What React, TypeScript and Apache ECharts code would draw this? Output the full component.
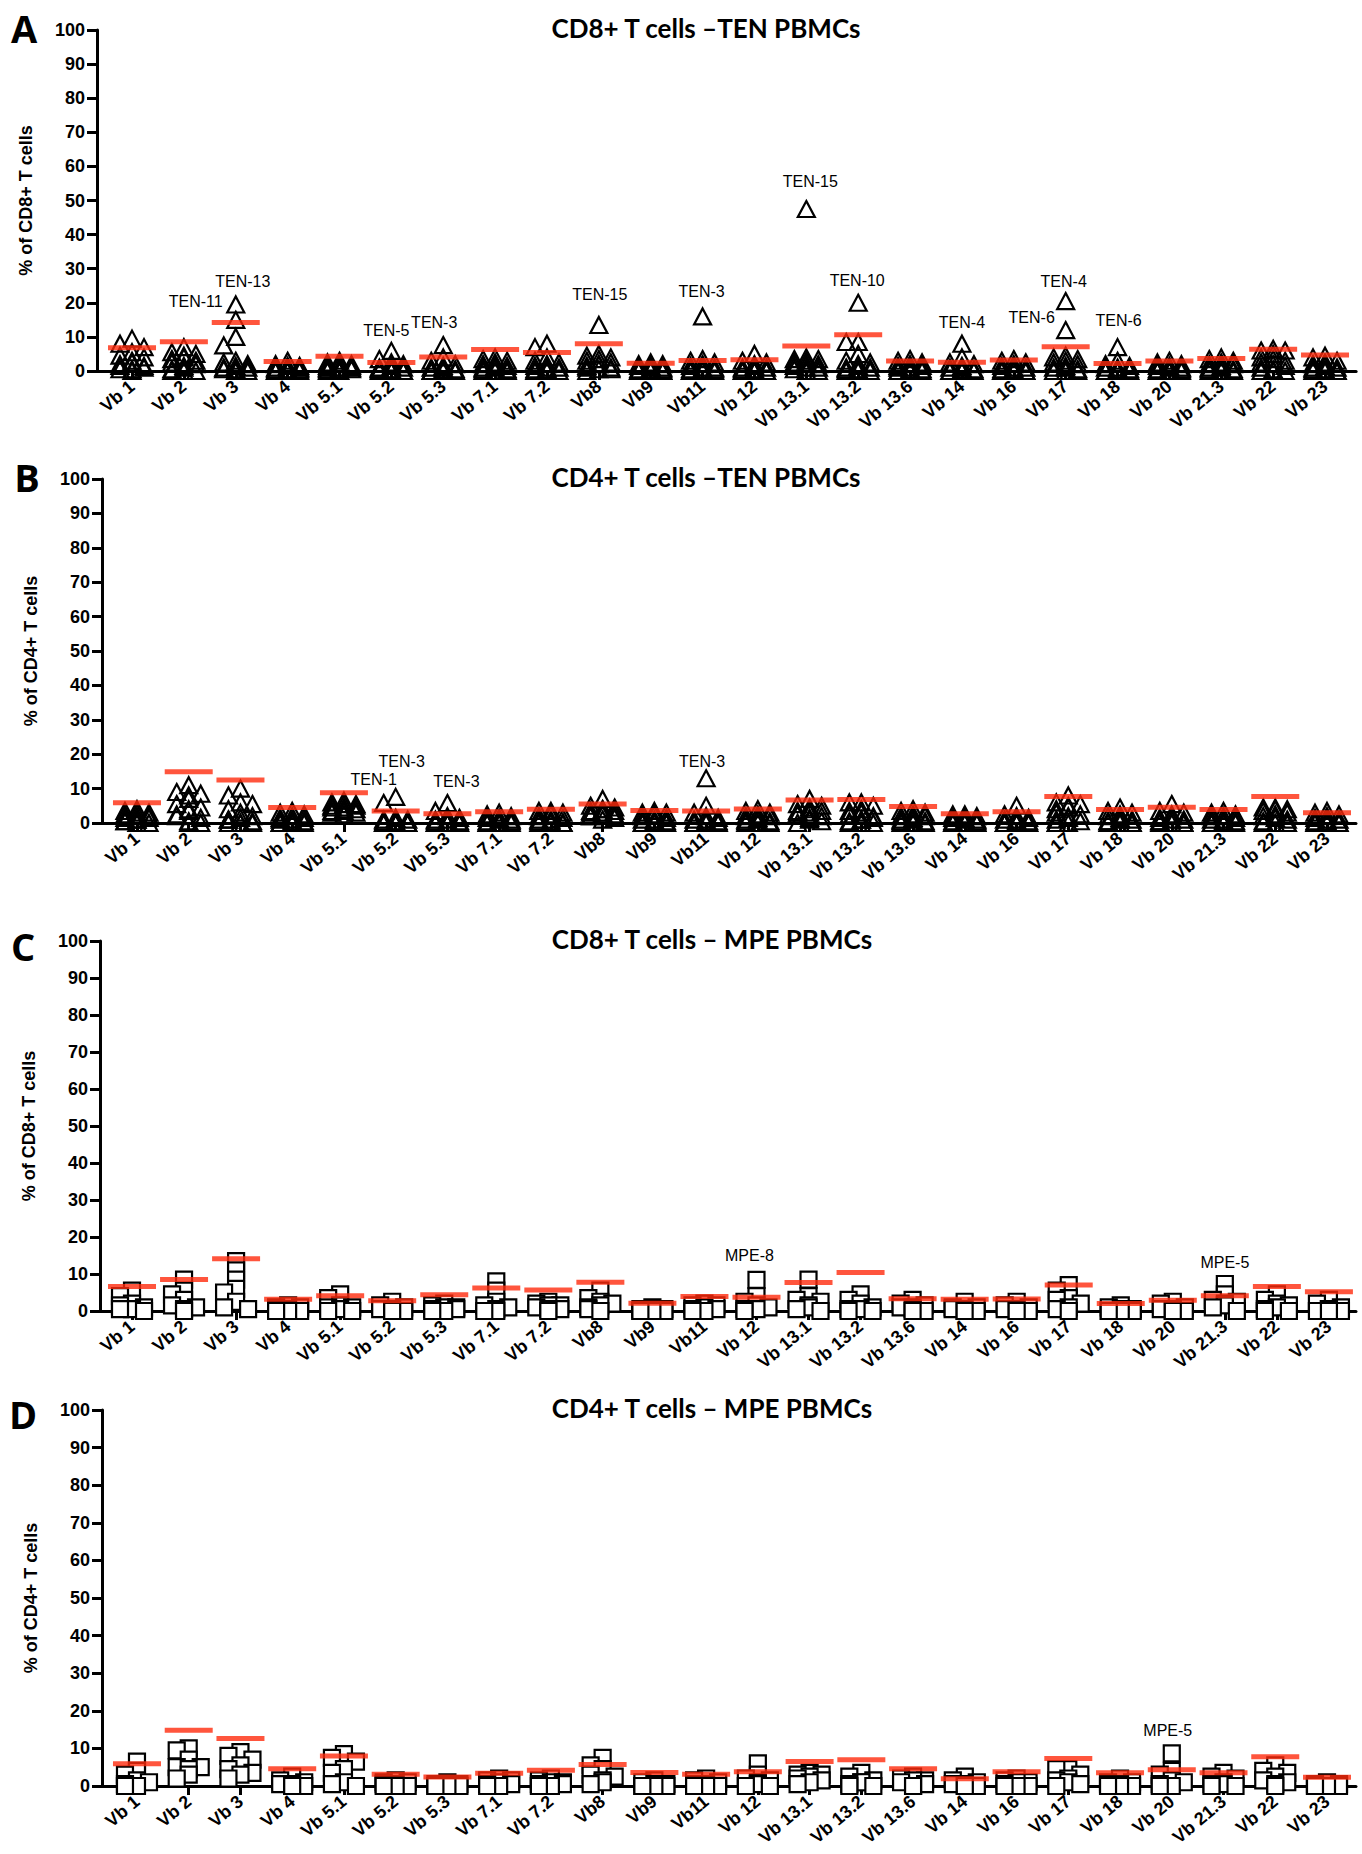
import React, { useEffect, useRef } from 'react';
import * as echarts from 'echarts';

// Vβ families on the x axis (same for all four panels)
const categories = [
  'Vb 1', 'Vb 2', 'Vb 3', 'Vb 4', 'Vb 5.1', 'Vb 5.2', 'Vb 5.3', 'Vb 7.1', 'Vb 7.2', 'Vb8', 'Vb9', 'Vb11',
  'Vb 12', 'Vb 13.1', 'Vb 13.2', 'Vb 13.6', 'Vb 14', 'Vb 16', 'Vb 17', 'Vb 18', 'Vb 20', 'Vb 21.3', 'Vb 22', 'Vb 23',
];

const yTicks = [0, 10, 20, 30, 40, 50, 60, 70, 80, 90, 100];

// A: CD8+ T cells, TEN PBMCs (one value per patient)
const cd8TenValues = [
  [9.5, 8, 7, 5.5, 4.5, 4, 3, 2.5, 2, 1.5, 1.5, 1, 0.5, 0.5, 0],
  [7, 5.5, 5, 4.5, 4, 3.5, 3, 2.5, 2, 1.5, 1, 0.5, 0, 0, 0],
  [19.5, 15, 10, 7.5, 3, 2.5, 2, 1.5, 1, 1, 0.5, 0.5, 0, 0, 0],
  [3, 2, 1.5, 1.5, 1, 1, 0.5, 0.5, 0.5, 0, 0, 0, 0, 0, 0],
  [3, 2.5, 2, 2, 1.5, 1.5, 1, 1, 1, 0.5, 0.5, 0.5, 0, 0, 0],
  [5.9, 3.5, 2.5, 2, 1.5, 1, 1, 0.5, 0.5, 0.5, 0, 0, 0, 0, 0],
  [7.6, 4, 3, 2, 1.5, 1, 1, 0.5, 0.5, 0, 0, 0, 0, 0, 0],
  [4, 3.5, 3, 2.5, 2, 1.5, 1.5, 1, 1, 0.5, 0.5, 0, 0, 0, 0],
  [8, 7, 4, 3, 2.5, 2, 1.5, 1, 1, 0.5, 0.5, 0, 0, 0, 0],
  [13.5, 5, 4.5, 4, 3.5, 3, 2.5, 2, 2, 1.5, 1, 1, 0.5, 0.5, 0],
  [2.5, 2, 2, 1.5, 1.5, 1, 1, 0.5, 0.5, 0.5, 0, 0, 0, 0, 0],
  [16, 3.5, 3, 2.5, 2, 1.5, 1, 1, 0.5, 0.5, 0.5, 0, 0, 0, 0],
  [5, 3, 2.5, 2, 1.5, 1, 1, 0.5, 0.5, 0, 0, 0, 0, 0, 0],
  [47.5, 4, 3.5, 3.5, 3, 2.5, 2, 2, 1.5, 1, 1, 0.5, 0, 0, 0],
  [20, 8.5, 8.5, 5, 3, 2.5, 2, 1.5, 1, 1, 0.5, 0.5, 0, 0, 0],
  [3.5, 3, 2.5, 2, 1.5, 1.5, 1, 1, 0.5, 0.5, 0, 0, 0, 0, 0],
  [8, 4, 2.5, 2, 1.5, 1, 1, 0.5, 0.5, 0, 0, 0, 0, 0, 0],
  [3.5, 3, 2.5, 2, 1.5, 1, 1, 0.5, 0.5, 0, 0, 0, 0, 0, 0],
  [20.5, 12, 4.5, 4, 3.5, 3, 2.5, 2, 1.5, 1, 1, 0.5, 0, 0, 0],
  [7, 3, 2, 1.5, 1, 1, 0.5, 0.5, 0, 0, 0, 0, 0, 0, 0],
  [3, 2.5, 2, 1.5, 1.5, 1, 1, 0.5, 0.5, 0, 0, 0, 0, 0, 0],
  [4, 3.5, 3, 2.5, 2, 2, 1.5, 1, 1, 0.5, 0.5, 0, 0, 0, 0],
  [6.5, 6, 6, 5, 4, 3.5, 3, 2.5, 2, 1.5, 1, 0.5, 0, 0, 0],
  [4.5, 4, 3, 2.5, 2, 1.5, 1, 1, 0.5, 0.5, 0, 0, 0, 0, 0],
];
const cd8TenRef = [6.8, 8.6, 14.2, 2.8, 4.3, 2.5, 4.1, 6.3, 5.4, 8.0, 2.3, 3.1, 3.3, 7.3, 10.6, 2.9, 2.6, 3.2, 7.1, 2.2, 2.9, 3.7, 6.4, 4.7];
const cd8TenNotes = [
  { cat: 2, value: 15, text: 'TEN-11' },
  { cat: 2, value: 19.5, text: 'TEN-13' },
  { cat: 5, value: 5.9, text: 'TEN-5' },
  { cat: 6, value: 7.6, text: 'TEN-3' },
  { cat: 9, value: 13.5, text: 'TEN-15' },
  { cat: 11, value: 16, text: 'TEN-3' },
  { cat: 13, value: 47.5, text: 'TEN-15' },
  { cat: 14, value: 20, text: 'TEN-10' },
  { cat: 16, value: 8, text: 'TEN-4' },
  { cat: 18, value: 12, text: 'TEN-6' },
  { cat: 18, value: 20.5, text: 'TEN-4' },
  { cat: 19, value: 7, text: 'TEN-6' },
];
const cd8TenNoteOffsets = [[-40, -18], [7, -23], [-5, -20], [-9, -23], [1, -30], [-1, -25], [4, -28], [-1, -22], [0, -21], [-34, -13], [-2, -20], [1, -27]];

// B: CD4+ T cells, TEN PBMCs
const cd4TenValues = [
  [4, 3.5, 3, 3, 2.5, 2, 2, 1.5, 1.5, 1, 1, 0.5, 0.5, 0, 0],
  [11, 9, 8.5, 8, 7, 5.5, 4.5, 4, 3.5, 2.5, 2, 1.5, 0.5, 0, 0],
  [10, 8, 6, 5.5, 4, 3, 2, 1.5, 1, 1, 0.5, 0, 0, 0, 0],
  [3.5, 3, 2.5, 2, 1.5, 1.5, 1, 1, 0.5, 0.5, 0, 0, 0, 0, 0],
  [6.5, 6, 5.5, 5.5, 5, 5, 4.5, 4.5, 4, 4, 3.5, 3.5, 3, 3, 2.5],
  [7.6, 5.8, 1.5, 1, 1, 0.5, 0.5, 0, 0, 0, 0, 0, 0, 0, 0],
  [5.8, 3.5, 2, 1.5, 1, 1, 0.5, 0.5, 0, 0, 0, 0, 0, 0, 0],
  [3, 2.5, 2, 1.5, 1.5, 1, 1, 0.5, 0.5, 0, 0, 0, 0, 0, 0],
  [3.5, 3.5, 3, 2.5, 2, 1.5, 1, 1, 0.5, 0.5, 0, 0, 0, 0, 0],
  [7, 5, 4.5, 4, 4, 3.5, 3.5, 3, 3, 2.5, 2.5, 2, 2, 1.5, 1],
  [3.5, 3, 3, 2.5, 2, 1.5, 1, 1, 0.5, 0.5, 0, 0, 0, 0, 0],
  [13, 5, 3, 2, 1.5, 1, 1, 0.5, 0.5, 0, 0, 0, 0, 0, 0],
  [4, 3.5, 3, 2.5, 2, 2, 1.5, 1, 1, 0.5, 0.5, 0, 0, 0, 0],
  [7, 5.5, 5, 4.5, 4, 3.5, 3.5, 3, 3, 2.5, 2, 1.5, 1, 0.5, 0],
  [6, 6, 5, 4, 3.5, 3, 2.5, 2, 1.5, 1, 1, 0.5, 0, 0, 0],
  [4, 3.5, 3, 2.5, 2, 2, 1.5, 1, 1, 0.5, 0.5, 0, 0, 0, 0],
  [2.5, 2.5, 2, 1.5, 1.5, 1, 1, 0.5, 0.5, 0, 0, 0, 0, 0, 0],
  [5, 2.5, 2, 1.5, 1, 1, 0.5, 0.5, 0, 0, 0, 0, 0, 0, 0],
  [8, 6, 5.5, 5, 4.5, 4, 3, 2.5, 2, 1.5, 1, 0.5, 0, 0, 0],
  [4.5, 3.5, 3, 2.5, 2, 1.5, 1, 1, 0.5, 0.5, 0, 0, 0, 0, 0],
  [5.5, 3.5, 3, 2.5, 2, 1.5, 1, 1, 0.5, 0.5, 0, 0, 0, 0, 0],
  [3.5, 3, 2.5, 2, 2, 1.5, 1, 1, 0.5, 0.5, 0, 0, 0, 0, 0],
  [4.5, 4.5, 4, 4, 3.5, 3, 2.5, 2, 1.5, 1, 0.5, 0, 0, 0, 0],
  [3.5, 3, 2.5, 2, 1.5, 1, 1, 0.5, 0.5, 0, 0, 0, 0, 0, 0],
];
const cd4TenRef = [5.9, 14.9, 12.5, 4.5, 8.8, 3.5, 2.7, 3.3, 4.0, 5.5, 3.6, 3.5, 4.1, 6.7, 6.8, 4.8, 2.7, 3.3, 7.7, 3.9, 4.6, 3.9, 7.7, 3.0];
const cd4TenNotes = [
  { cat: 5, value: 5.8, text: 'TEN-1' },
  { cat: 5, value: 7.6, text: 'TEN-3' },
  { cat: 6, value: 5.8, text: 'TEN-3' },
  { cat: 11, value: 13, text: 'TEN-3' },
];
const cd4TenNoteOffsets = [[-10, -24], [6, -35], [9, -22], [-4, -17]];

// C: CD8+ T cells, MPE PBMCs
const cd8MpeValues = [
  [5.5, 4, 2, 1.5, 1, 0.5, 0.5, 0],
  [8.5, 5.5, 4.5, 3, 1.5, 1, 0.5, 0],
  [13.5, 11, 8.5, 6, 5, 2.5, 1, 0.5],
  [1.5, 1, 1, 0.5, 0.5, 0, 0, 0],
  [4.5, 3.5, 1.5, 1, 1, 0.5, 0, 0],
  [2.5, 1.5, 1, 0.5, 0.5, 0, 0, 0],
  [2, 1.5, 1, 1, 0.5, 0.5, 0, 0],
  [8, 5.5, 2.5, 1.5, 1, 0.5, 0, 0],
  [2.5, 2, 1.5, 1.5, 1, 0.5, 0.5, 0],
  [5.5, 3.5, 2.5, 2, 1.5, 1, 0.5, 0],
  [1, 0.5, 0.5, 0.5, 0, 0, 0, 0],
  [2, 1.5, 1.5, 1, 0.5, 0.5, 0, 0],
  [8.4, 4, 2.5, 1.5, 1, 0.5, 0.5, 0],
  [8.5, 4, 3, 2.5, 1.5, 1, 0.5, 0],
  [4.5, 3, 2, 1, 0.5, 0.5, 0, 0],
  [3, 2, 1.5, 1, 1, 0.5, 0, 0],
  [2.5, 1, 1, 0.5, 0.5, 0, 0, 0],
  [2.5, 1.5, 1, 0.5, 0.5, 0, 0, 0],
  [7, 5.5, 3.5, 3, 2, 1, 0.5, 0],
  [1.5, 1, 0.5, 0.5, 0, 0, 0, 0],
  [2.5, 2, 1, 0.5, 0.5, 0, 0, 0],
  [7.3, 4.5, 3, 2.5, 2, 1.5, 1, 0],
  [4.5, 3, 2, 1.5, 1, 0.5, 0, 0],
  [3, 2, 1, 0.5, 0.5, 0, 0, 0],
];
const cd8MpeRef = [6.6, 8.5, 14.1, 3.2, 4.1, 2.8, 4.4, 6.2, 5.7, 7.8, 2.1, 3.9, 3.7, 7.7, 10.4, 3.3, 3.2, 3.25, 7.0, 2.0, 2.9, 4.1, 6.6, 5.2];
const cd8MpeNotes = [
  { cat: 12, value: 8.4, text: 'MPE-8' },
  { cat: 21, value: 7.3, text: 'MPE-5' },
];
const cd8MpeNoteOffsets = [[-7, -24], [0, -21]];

// D: CD4+ T cells, MPE PBMCs
const cd4MpeValues = [
  [6.5, 4, 3, 1.5, 1, 0.5, 0, 0],
  [10, 9.5, 7, 5, 5, 4.5, 3, 2],
  [9, 8, 7, 5.5, 4.5, 3.5, 3, 2],
  [2.5, 1.5, 1, 0.5, 0.5, 0, 0, 0],
  [8.5, 7.5, 6.5, 4.5, 3.5, 1, 0.5, 0],
  [1.5, 1, 1, 0.5, 0.5, 0, 0, 0],
  [1, 0.5, 0.5, 0.5, 0, 0, 0, 0],
  [2, 1.5, 1.5, 1, 0.5, 0.5, 0, 0],
  [2, 1.5, 1, 1, 0.5, 0.5, 0, 0],
  [7.5, 5.5, 4.5, 3, 2.5, 1.5, 1, 0.5],
  [1.5, 1, 0.5, 0.5, 0, 0, 0, 0],
  [2, 1.5, 1, 0.5, 0.5, 0, 0, 0],
  [6, 3, 2, 1.5, 1, 0.5, 0, 0],
  [3.5, 3, 3, 2.5, 2, 1.5, 1, 0.5],
  [3.5, 2.5, 1.5, 1, 1, 0.5, 0, 0],
  [2.5, 2, 1.5, 1.5, 1, 0.5, 0, 0],
  [2.5, 1.5, 1, 0.5, 0.5, 0, 0, 0],
  [2, 1.5, 1, 1, 0.5, 0, 0, 0],
  [4.5, 4.5, 3, 2, 1.5, 1, 0.5, 0],
  [2, 1, 1, 0.5, 0.5, 0, 0, 0],
  [8.7, 4, 3, 1.5, 1, 0.5, 0, 0],
  [3.5, 2.5, 2, 1, 0.5, 0.5, 0, 0],
  [5.5, 4, 3.5, 2.5, 1.5, 1, 0.5, 0],
  [1, 0.5, 0.5, 0, 0, 0, 0, 0],
];
const cd4MpeRef = [5.9, 14.8, 12.6, 4.6, 8.0, 3.1, 2.4, 3.4, 4.2, 5.7, 3.6, 3.1, 3.8, 6.5, 7.0, 4.6, 1.9, 3.8, 7.3, 3.5, 4.3, 3.5, 7.8, 2.3];
const cd4MpeNotes = [{ cat: 20, value: 8.7, text: 'MPE-5' }];
const cd4MpeNoteOffsets = [[-4, -23]];

const RED = '#ff2a0d';
const TICK_FONT = 'Liberation Sans';

const panels = [
  {
    letter: 'A', title: 'CD8+ T cells \u2013TEN PBMCs', yName: '% of CD8+ T cells',
    values: cd8TenValues, ref: cd8TenRef, notes: cd8TenNotes, noteOffsets: cd8TenNoteOffsets, symbol: 'triangle',
    top: 30, height: 341, left: 97, step: 51.87, xMin: -0.675, xMax: 23.6, titleX: 706, letterX: 24, letterY: 28,
  },
  {
    letter: 'B', title: 'CD4+ T cells \u2013TEN PBMCs', yName: '% of CD4+ T cells',
    values: cd4TenValues, ref: cd4TenRef, notes: cd4TenNotes, noteOffsets: cd4TenNoteOffsets, symbol: 'triangle',
    top: 479, height: 344, left: 102, step: 51.74, xMin: -0.676, xMax: 23.56, titleX: 706, letterX: 27, letterY: 477,
  },
  {
    letter: 'C', title: 'CD8+ T cells \u2013 MPE PBMCs', yName: '% of CD8+ T cells',
    values: cd8MpeValues, ref: cd8MpeRef, notes: cd8MpeNotes, noteOffsets: cd8MpeNoteOffsets, symbol: 'rect',
    top: 941, height: 370, left: 100, step: 52.04, xMin: -0.615, xMax: 23.52, titleX: 712, letterX: 23, letterY: 946,
  },
  {
    letter: 'D', title: 'CD4+ T cells \u2013 MPE PBMCs', yName: '% of CD4+ T cells',
    values: cd4MpeValues, ref: cd4MpeRef, notes: cd4MpeNotes, noteOffsets: cd4MpeNoteOffsets, symbol: 'rect',
    top: 1410, height: 376, left: 102, step: 51.74, xMin: -0.676, xMax: 23.56, titleX: 712, letterX: 23, letterY: 1414,
  },
];

// spread points of one column sideways so that they do not sit on top of each other
function swarmOffsets(values: number[], pxPerUnit: number, step: number): number[] {
  const candidates = [0, -6, 6, -12, 12, -3, 3, -9, 9];
  const order = values.map((v, i) => i).sort((a, b) => values[b] - values[a]);
  const placed: { x: number; y: number }[] = [];
  const offsets = new Array(values.length).fill(0);
  order.forEach((idx) => {
    const y = values[idx] * pxPerUnit;
    let best = 0;
    let bestCount = Infinity;
    for (const c of candidates) {
      const hits = placed.filter((p) => Math.abs(p.x - c) < 10 && Math.abs(p.y - y) < 9).length;
      if (hits === 0) { best = c; break; }
      if (hits < bestCount) { bestCount = hits; best = c; }
    }
    placed.push({ x: best, y });
    offsets[idx] = best / step;
  });
  return offsets;
}

const App: React.FC = () => {
  const chartRef = useRef<HTMLDivElement>(null);

  useEffect(() => {
    if (!chartRef.current) return;
    document.body.style.margin = '0';
    const chart = echarts.init(chartRef.current, null, { renderer: 'svg' });

    const grids: any[] = [];
    const xAxes: any[] = [];
    const yAxes: any[] = [];
    const series: any[] = [];
    const graphics: any[] = [];
    const catIdx = categories.map((_, i) => i);

    panels.forEach((p, k) => {
      const width = (p.xMax - p.xMin) * p.step;
      grids.push({ left: p.left, top: p.top, width, height: p.height });
      xAxes.push({
        type: 'value', gridIndex: k, min: p.xMin, max: p.xMax,
        splitLine: { show: false },
        axisLine: { onZero: false, lineStyle: { color: '#000', width: 3 } },
        axisTick: { customValues: catIdx, length: 9, lineStyle: { color: '#000', width: 3 } },
        axisLabel: {
          customValues: catIdx,
          formatter: (v: number) => categories[Math.round(v)],
          rotate: 40, margin: 13, color: '#000',
          fontFamily: TICK_FONT, fontWeight: 'bold', fontSize: 18,
        },
      });
      yAxes.push({
        type: 'value', gridIndex: k, min: 0, max: 100, interval: 10,
        name: p.yName, nameLocation: 'middle', nameGap: 62,
        nameTextStyle: { fontFamily: TICK_FONT, fontWeight: 'bold', fontSize: 18, color: '#000' },
        splitLine: { show: false },
        axisLine: { show: true, onZero: false, lineStyle: { color: '#000', width: 3 } },
        axisTick: { show: true, length: 10, lineStyle: { color: '#000', width: 3 } },
        axisLabel: {
          margin: 12, color: '#000', fontFamily: TICK_FONT, fontWeight: 'bold', fontSize: 18,
          customValues: yTicks,
        },
      });

      const pxPerUnit = p.height / 100;
      const points: any[] = [];
      p.values.forEach((vals, ci) => {
        const offs = swarmOffsets(vals, pxPerUnit, p.step);
        const used = new Set<number>();
        vals.forEach((v, vi) => {
          const item: any = { value: [ci + offs[vi], v] };
          const ni = p.notes.findIndex((n, j) => !used.has(j) && n.cat === ci && n.value === v);
          if (ni >= 0) {
            used.add(ni);
            item.label = {
              show: true, formatter: p.notes[ni].text, position: 'inside',
              offset: p.noteOffsets[ni], color: '#000',
              fontFamily: 'Liberation Sans', fontSize: 16,
            };
          }
          points.push(item);
        });
      });

      series.push({
        type: 'scatter', xAxisIndex: k, yAxisIndex: k, clip: false, z: 2,
        symbol: p.symbol,
        symbolSize: p.symbol === 'triangle' ? [17, 16] : [16, 16],
        itemStyle: {
          color: p.symbol === 'triangle' ? 'rgba(0,0,0,0)' : '#fff',
          borderColor: '#000', borderWidth: 2.2, opacity: 1,
        },
        emphasis: { disabled: true },
        data: points,
      });
      series.push({
        type: 'scatter', xAxisIndex: k, yAxisIndex: k, clip: false, z: 3,
        symbol: 'rect', symbolSize: [48, 5],
        itemStyle: { color: RED },
        emphasis: { disabled: true },
        data: p.ref.map((v, i) => [i, v]),
      });

      graphics.push({
        type: 'text', x: p.letterX, y: p.letterY,
        style: { text: p.letter, fontFamily: 'Open Sans', fontWeight: 'bold', fontSize: 38, fill: '#000', align: 'center', verticalAlign: 'middle' },
      });
      graphics.push({
        type: 'text', x: p.titleX, y: p.top - 2,
        style: { text: p.title, fontFamily: 'Lato', fontWeight: 'bold', fontSize: 26, fill: '#000', align: 'center', verticalAlign: 'middle' },
      });
    });

    chart.setOption({
      animation: false,
      backgroundColor: '#fff',
      grid: grids,
      xAxis: xAxes,
      yAxis: yAxes,
      series,
      graphic: graphics,
    });

    return () => {
      chart.dispose();
    };
  }, []);

  return <div ref={chartRef} style={{ width: '1362px', height: '1854px' }} />;
};

export default App;
